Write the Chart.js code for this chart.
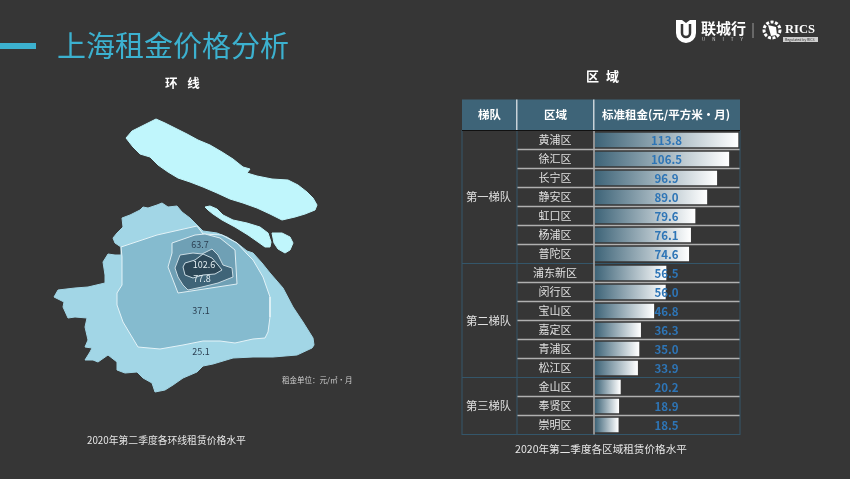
<!DOCTYPE html>
<html>
<head>
<meta charset="utf-8">
<title>上海租金价格分析</title>
<script src="https://cdn.jsdelivr.net/npm/chart.js@4/dist/chart.umd.min.js"></script>
<style>
html, body { margin: 0; padding: 0; background: #363636; }
#slide { position: relative; width: 850px; height: 479px; overflow: hidden; background: #363636; font-family: "Noto Sans CJK SC", "Noto Sans", sans-serif; filter: blur(0.35px); }
canvas { position: absolute; left: 0; top: 0; }
.t { position: absolute; white-space: nowrap; line-height: 1; color: #e6e6e6; }
</style>
</head>
<body>
<div id="slide">
  <canvas id="mapChart" width="850" height="479"></canvas>
  <canvas id="tableChart" width="850" height="479"></canvas>

  <div style="position:absolute;left:0;top:43px;width:36px;height:6px;background:#3cb1cf"></div>
  <div class="t" style="left:57px;top:30px;font-size:29px;color:#3cb1cf">上海租金价格分析</div>
  <div class="t" style="left:165px;top:77px;font-size:12.5px;font-weight:700;color:#fff;word-spacing:7px">环 线</div>
  <div class="t" style="left:586px;top:69px;font-size:13px;font-weight:700;color:#fff;word-spacing:4px">区 域</div>
  <div class="t" style="left:282px;top:376px;font-size:7.5px;color:#d0d0d0">租金单位：元/㎡·月</div>
  <div class="t" style="left:87px;top:436px;font-size:9.8px">2020年第二季度各环线租赁价格水平</div>
  <div class="t" style="left:515px;top:444px;font-size:10.6px">2020年第二季度各区域租赁价格水平</div>

  <!-- logo -->
  <svg style="position:absolute;left:0;top:0" width="850" height="60">
    <path d="M676 20 h6 l4 3 l4 -3 h6 v13 a10 10 0 0 1 -20 0 z" fill="#fff"/>
    <path d="M682 24 v9 a4 4 0 0 0 8 0 v-9" fill="none" stroke="#363636" stroke-width="2.5"/>
    <line x1="753" y1="23" x2="753" y2="38" stroke="#999" stroke-width="1"/>
    <circle cx="772" cy="30" r="8" fill="none" stroke="#fff" stroke-width="3" stroke-dasharray="3 1.5"/>
    <path d="M768 25 l8 2 l1 8 l-6 1 z" fill="#fff"/>
    <rect x="783" y="37" width="35" height="5" fill="#cfcfcf"/>
  </svg>
  <div class="t" style="left:701px;top:20px;font-size:15px;font-weight:700;color:#fff">联城行</div>
  <div class="t" style="left:702px;top:37px;font-size:4.5px;color:#ccc;letter-spacing:7px">UNITY</div>
  <div class="t" style="left:785px;top:23px;font-size:12.5px;font-weight:700;color:#fff;font-family:'Liberation Serif',serif">RICS</div>
  <div class="t" style="left:785px;top:38px;font-size:3.5px;color:#333">Regulated by RICS</div>
</div>

<script>
// table data
var districts = ["黄浦区", "徐汇区", "长宁区", "静安区", "虹口区", "杨浦区", "普陀区", "浦东新区", "闵行区", "宝山区", "嘉定区", "青浦区", "松江区", "金山区", "奉贤区", "崇明区"];
var rents = [113.8, 106.5, 96.9, 89.0, 79.6, 76.1, 74.6, 56.5, 56.0, 46.8, 36.3, 35.0, 33.9, 20.2, 18.9, 18.5];
var tiers = ["第一梯队", "第二梯队", "第三梯队"];
var tierSizes = [7, 6, 3];
var tableHeaders = ["梯队", "区域", "标准租金(元/平方米•月)"];

// map data, ring rents and where each number sits
var ringRents = ["102.6", "77.8", "63.7", "37.1", "25.1"];
var ringLabelSpots = [[204, 265], [202, 279], [200, 245], [201, 311], [201, 352]];

// outlines, x/y on the map's own scale
var chongming = [[126,138],[132,131],[140,127],[148,123],[156,119],[165,123],[175,128],[187,134],[198,140],[210,145],[222,152],[233,159],[243,167],[250,169],[247,173],[257,176],[272,179],[288,180],[298,185],[307,192],[313,198],[317,205],[315,210],[305,214],[295,217],[282,220],[270,214],[257,208],[243,203],[230,199],[217,193],[203,187],[190,182],[178,178],[168,172],[158,165],[150,157],[140,154],[133,147]];
var changxing = [[205,207],[210,206],[217,209],[223,215],[233,220],[247,223],[260,227],[268,233],[271,242],[270,247],[265,247],[258,242],[248,235],[235,227],[222,220],[213,214],[208,210]];
var hengsha = [[272,233],[282,233],[290,237],[293,243],[290,250],[285,253],[278,249],[274,243]];
var outerRing = [[113,238],[117,233],[123,227],[122,218],[130,215],[140,210],[143,207],[148,208],[157,205],[162,203],[168,207],[177,206],[182,212],[190,218],[197,225],[203,231],[217,233],[227,237],[237,243],[247,251],[253,253],[262,263],[270,273],[283,288],[293,307],[303,322],[313,338],[314,345],[312,348],[297,355],[273,357],[253,357],[233,358],[213,364],[203,366],[197,372],[183,378],[173,385],[165,390],[155,392],[152,383],[143,378],[137,372],[125,373],[117,370],[117,362],[108,355],[98,362],[93,360],[85,360],[90,352],[92,348],[85,347],[88,340],[85,327],[87,318],[75,317],[68,318],[63,307],[64,302],[54,297],[58,290],[75,288],[88,287],[105,283],[105,275],[103,262],[108,254],[115,255],[121,255],[121,247],[115,243]];
var suburbRing = [[121,247],[157,235],[197,226],[203,234],[222,235],[237,243],[247,254],[253,260],[263,277],[270,297],[270,317],[268,332],[265,338],[253,339],[235,343],[220,341],[203,341],[183,345],[160,349],[138,347],[132,337],[123,322],[117,305],[117,293],[122,285],[122,257]];
var outerInnerRing = [[172,243],[195,235],[205,234],[220,238],[235,250],[237,284],[178,293],[168,267],[172,253]];
var middleRing = [[175,268],[180,255],[193,253],[202,254],[212,249],[218,255],[223,265],[232,268],[233,277],[218,283],[202,287],[188,290],[183,285],[178,277]];
var innerRing = [[183,267],[185,263],[195,260],[203,254],[212,258],[218,265],[222,270],[215,274],[203,275],[193,278],[185,275]];

function ringDataset(outline, colour, edge) {
    var points = outline.map(function (p) { return { x: p[0], y: p[1] }; });
    points.push({ x: outline[0][0], y: outline[0][1] });
    return {
        data: points,
        showLine: true,
        fill: "shape",
        backgroundColor: colour,
        borderColor: edge,
        borderWidth: 1,
        pointRadius: 0,
        tension: 0
    };
}

// numbers on top of the map
var ringLabels = {
    id: "ringLabels",
    afterDatasetsDraw: function (chart) {
        var ctx = chart.ctx;
        ctx.save();
        ctx.font = "9px 'Noto Sans CJK SC'";
        ctx.textAlign = "center";
        ctx.textBaseline = "middle";
        ringRents.forEach(function (value, i) {
            ctx.fillStyle = i < 2 ? "#e4eef2" : "#2b3f52";
            ctx.fillText(value, chart.scales.x.getPixelForValue(ringLabelSpots[i][0]), chart.scales.y.getPixelForValue(ringLabelSpots[i][1]));
        });
        ctx.restore();
    }
};

// first dataset is painted last, so inner rings go first
new Chart(document.getElementById("mapChart"), {
    type: "scatter",
    data: {
        datasets: [
            ringDataset(innerRing, "#2c4757", "#c9dbe3"),
            ringDataset(middleRing, "#3f6478", "#c9dbe3"),
            ringDataset(outerInnerRing, "#6fa0b5", "#dfeef3"),
            ringDataset(suburbRing, "#85bbcf", "#e4f3f8"),
            ringDataset(outerRing, "#a2d6e6", "#a2d6e6"),
            ringDataset(chongming, "#c0f6fc", "#c0f6fc"),
            ringDataset(changxing, "#c0f6fc", "#c0f6fc"),
            ringDataset(hengsha, "#c0f6fc", "#c0f6fc")
        ]
    },
    options: {
        responsive: false,
        animation: false,
        events: [],
        plugins: { legend: { display: false }, tooltip: { enabled: false } },
        scales: {
            x: { type: "linear", min: 0, max: 850, display: false },
            y: { type: "linear", min: 0, max: 479, reverse: true, display: false }
        }
    },
    plugins: [ringLabels]
});

// header, tier column and row lines around the bars
var tableFrame = {
    id: "tableFrame",
    beforeDatasetsDraw: function (chart) {
        var ctx = chart.ctx, y = chart.scales.y, area = chart.chartArea;
        var rowHeight = (area.bottom - area.top) / districts.length;
        var first = 462, second = 517, third = area.left - 1, last = area.right;
        ctx.save();

        // header band
        ctx.fillStyle = "#3e6478";
        ctx.fillRect(first, area.top - 31, last - first, 31);
        ctx.fillStyle = "#fff";
        ctx.textAlign = "center";
        ctx.textBaseline = "middle";
        ctx.font = "700 11.5px 'Noto Sans CJK SC'";
        ctx.fillText(tableHeaders[0], (first + second) / 2, area.top - 15.5);
        ctx.fillText(tableHeaders[1], (second + third) / 2, area.top - 15.5);
        ctx.fillText(tableHeaders[2], (third + last) / 2 - 1, area.top - 15.5);
        ctx.fillStyle = "#c8d2d8";
        ctx.fillRect(second - 1, area.top - 31, 1.5, 31);
        ctx.fillRect(third - 1, area.top - 31, 1.5, 31);

        // row lines
        var tierEnds = [], sum = 0;
        tierSizes.forEach(function (n) { sum += n; tierEnds.push(sum); });
        for (var i = 1; i < districts.length; i++) {
            var line = y.top + i * rowHeight;
            var isTier = tierEnds.indexOf(i) >= 0;
            ctx.strokeStyle = isTier ? "#34566a" : "#b0b0b0";
            ctx.lineWidth = isTier ? 1 : 1.5;
            ctx.beginPath();
            ctx.moveTo(isTier ? first : second, line);
            ctx.lineTo(last, line);
            ctx.stroke();
        }

        // frame and column lines
        ctx.strokeStyle = "#34566a";
        ctx.lineWidth = 1;
        ctx.strokeRect(first, area.top, last - first, area.bottom - area.top);
        ctx.beginPath();
        ctx.moveTo(second, area.top);
        ctx.lineTo(second, area.bottom);
        ctx.stroke();
        ctx.strokeStyle = "#b0b0b0";
        ctx.lineWidth = 1.5;
        ctx.beginPath();
        ctx.moveTo(third, area.top);
        ctx.lineTo(third, area.bottom);
        ctx.stroke();
        ctx.strokeStyle = "#111";
        ctx.lineWidth = 1;
        ctx.beginPath();
        ctx.moveTo(first, area.top);
        ctx.lineTo(last, area.top);
        ctx.stroke();

        // tier names
        ctx.fillStyle = "#e0e0e0";
        ctx.font = "11.3px 'Noto Sans CJK SC'";
        var start = 0;
        tiers.forEach(function (name, t) {
            var mid = y.top + (start + tierSizes[t] / 2) * rowHeight;
            ctx.fillText(name, (first + second) / 2 - 1, mid);
            start += tierSizes[t];
        });
        ctx.restore();
    },
    afterDatasetsDraw: function (chart) {
        var ctx = chart.ctx, area = chart.chartArea;
        ctx.save();
        ctx.fillStyle = "#2e75b6";
        ctx.font = "700 11.5px 'Noto Sans CJK SC'";
        ctx.textAlign = "center";
        ctx.textBaseline = "middle";
        rents.forEach(function (value, i) {
            ctx.fillText(value.toFixed(1), (area.left + area.right) / 2 - 1, chart.scales.y.getPixelForValue(i) + 0.5);
        });
        ctx.restore();
    }
};

new Chart(document.getElementById("tableChart"), {
    type: "bar",
    data: {
        labels: districts,
        datasets: [{
            data: rents,
            barThickness: 14,
            backgroundColor: function (context) {
                var x = context.chart.scales.x;
                var start = x.getPixelForValue(0), end = x.getPixelForValue(rents[context.dataIndex]);
                if (!isFinite(start) || !isFinite(end)) return "#8fa5b0";
                var g = context.chart.ctx.createLinearGradient(start, 0, end, 0);
                g.addColorStop(0, "#3e6478");
                g.addColorStop(1, "#ffffff");
                return g;
            }
        }]
    },
    options: {
        indexAxis: "y",
        responsive: false,
        animation: false,
        events: [],
        layout: { padding: { left: 518, right: 110, top: 130.5, bottom: 44.5 } },
        plugins: { legend: { display: false }, tooltip: { enabled: false } },
        scales: {
            x: { min: 0, max: 115.4, display: false },
            y: {
                grid: { display: false, drawTicks: false },
                border: { display: false },
                afterFit: function (scale) { scale.width = 77; },
                ticks: {
                    color: "#e0e0e0",
                    font: { family: "'Noto Sans CJK SC'", size: 11 },
                    crossAlign: "center",
                    padding: 18
                }
            }
        }
    },
    plugins: [tableFrame]
});
</script>
</body>
</html>
